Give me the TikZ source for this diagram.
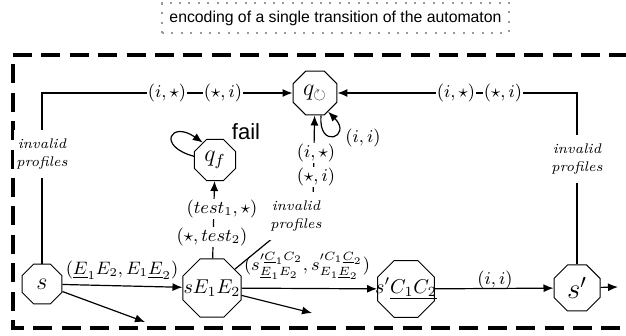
\documentclass[tikz,border=0pt]{standalone}
\usepackage{amsmath,amssymb}
\usepackage{fontspec}
\newfontfamily\boxfont{Liberation Sans}
\usetikzlibrary{shapes.geometric,arrows.meta}

\begin{document}
\begin{tikzpicture}[x=0.5pt, y=0.5pt, line width=0.6pt, >={Latex[length=5pt,width=4pt]},
  oct/.style={draw, regular polygon, regular polygon sides=8, inner sep=0pt, line width=0.5pt},
  lbl/.style={fill=white, inner sep=0.4pt, font=\small},
  invalid/.style={fill=white, align=center, inner xsep=1pt, inner ysep=4.5pt, font=\fontsize{7}{9}\selectfont\itshape}]
\useasboundingbox (0,0) rectangle (626,336);
% frame of the transition
\draw[line width=2pt, dash pattern=on 9.5pt off 4.7pt] (13,281) -- (640,281);
\draw[line width=2pt, dash pattern=on 9.5pt off 4.7pt, dash phase=9.5pt] (13,281) -- (13,8) -- (640,8);
\node[draw=gray!80, line width=1pt, dash pattern=on 1pt off 3.7pt, minimum width=173.5pt, minimum height=15pt, inner sep=0pt, font=\boxfont\fontsize{7.9}{9.5}\selectfont] (title) at (335.5,318) {encoding of a single transition of the automaton};
% states
\node[oct, minimum size=21.6pt, font=\large] (s) at (42,52) {\makebox[0pt]{$s$}};
\node[oct, minimum size=31.4pt] (sE) at (212,48) {\makebox[0pt]{$sE_1E_2$}};
\node[oct, minimum size=30.8pt] (sC) at (406,47) {\makebox[0pt]{$s'\underline{C_1C_2}$}};
\node[oct, minimum size=24.9pt, font=\Large] (sp) at (577,48) {\makebox[0pt]{$s'$}};
\node[oct, minimum size=22.2pt, font=\large] (qf) at (215,176) {\makebox[0pt]{$q_f$}};
\node[oct, minimum size=23.8pt, font=\large] (qc) at (315,243) {\makebox[0pt]{$q_{\circlearrowright}$}};
\node[font=\boxfont\fontsize{11}{13}\selectfont] (fail) at (246,204) {fail};
\coordinate (sout) at (145,14);
\coordinate (sEout) at (312,23);
\coordinate (spout) at (618,49);
\coordinate (kink) at (313,131);
% transitions
\draw[->] (s) -- (sE); \draw[->] (s) -- (sout);
\draw[->] (sE) -- (sC); \draw[->] (sE) -- (sEout);
\draw[->] (sC) -- (sp); \draw[->] (sp) -- (spout);
\draw[->] (sE) -- (qf); \draw[->] (sE) -- (kink) -- (qc);
\draw[->] (s) |- (qc); \draw[->] (sp) |- (qc);
\draw[->] (qf.170) .. controls +(165:39) and +(145:39) .. (qf.125);
\draw[->] (qc.-75) .. controls +(-95:35) and +(-45:35) .. (qc.-55);
% labels
\node[lbl] (tl1) at (167,243) {$(i,\star)$};
\node[lbl] (tl2) at (223,243) {$(\star,i)$};
\node[lbl] (tr1) at (456,243) {$(i,\star)$};
\node[lbl] (tr2) at (503,243) {$(\star,i)$};
\node[invalid] (invl) at (42,182) {invalid\\profiles};
\node[invalid] (invr) at (577,177) {invalid\\profiles};
\node[invalid] (invm) at (296,120) {invalid\\profiles};
\node[lbl] (m1) at (316,183) {$(i,\star)$};
\node[lbl] (m2) at (316,159) {$(\star,i)$};
\node[lbl] (f1) at (222,127) {$(test_1,\star)$};
\node[lbl] (f2) at (212,99) {$(\star,test_2)$};
\node[font=\small] (lloop) at (363,198) {$(i,i)$};
\node[font=\small] (l1) at (122,66) {$(\underline{E}_1E_2,E_1\underline{E}_2)$};
\node[font=\small] (l2) at (307,70) {$(s'^{\underline{C}_1C_2}_{\underline{E}_1E_2},s'^{C_1\underline{C}_2}_{E_1\underline{E}_2})$};
\node[font=\small] (l3) at (495,56) {$(i,i)$};
\end{tikzpicture}
\end{document}
